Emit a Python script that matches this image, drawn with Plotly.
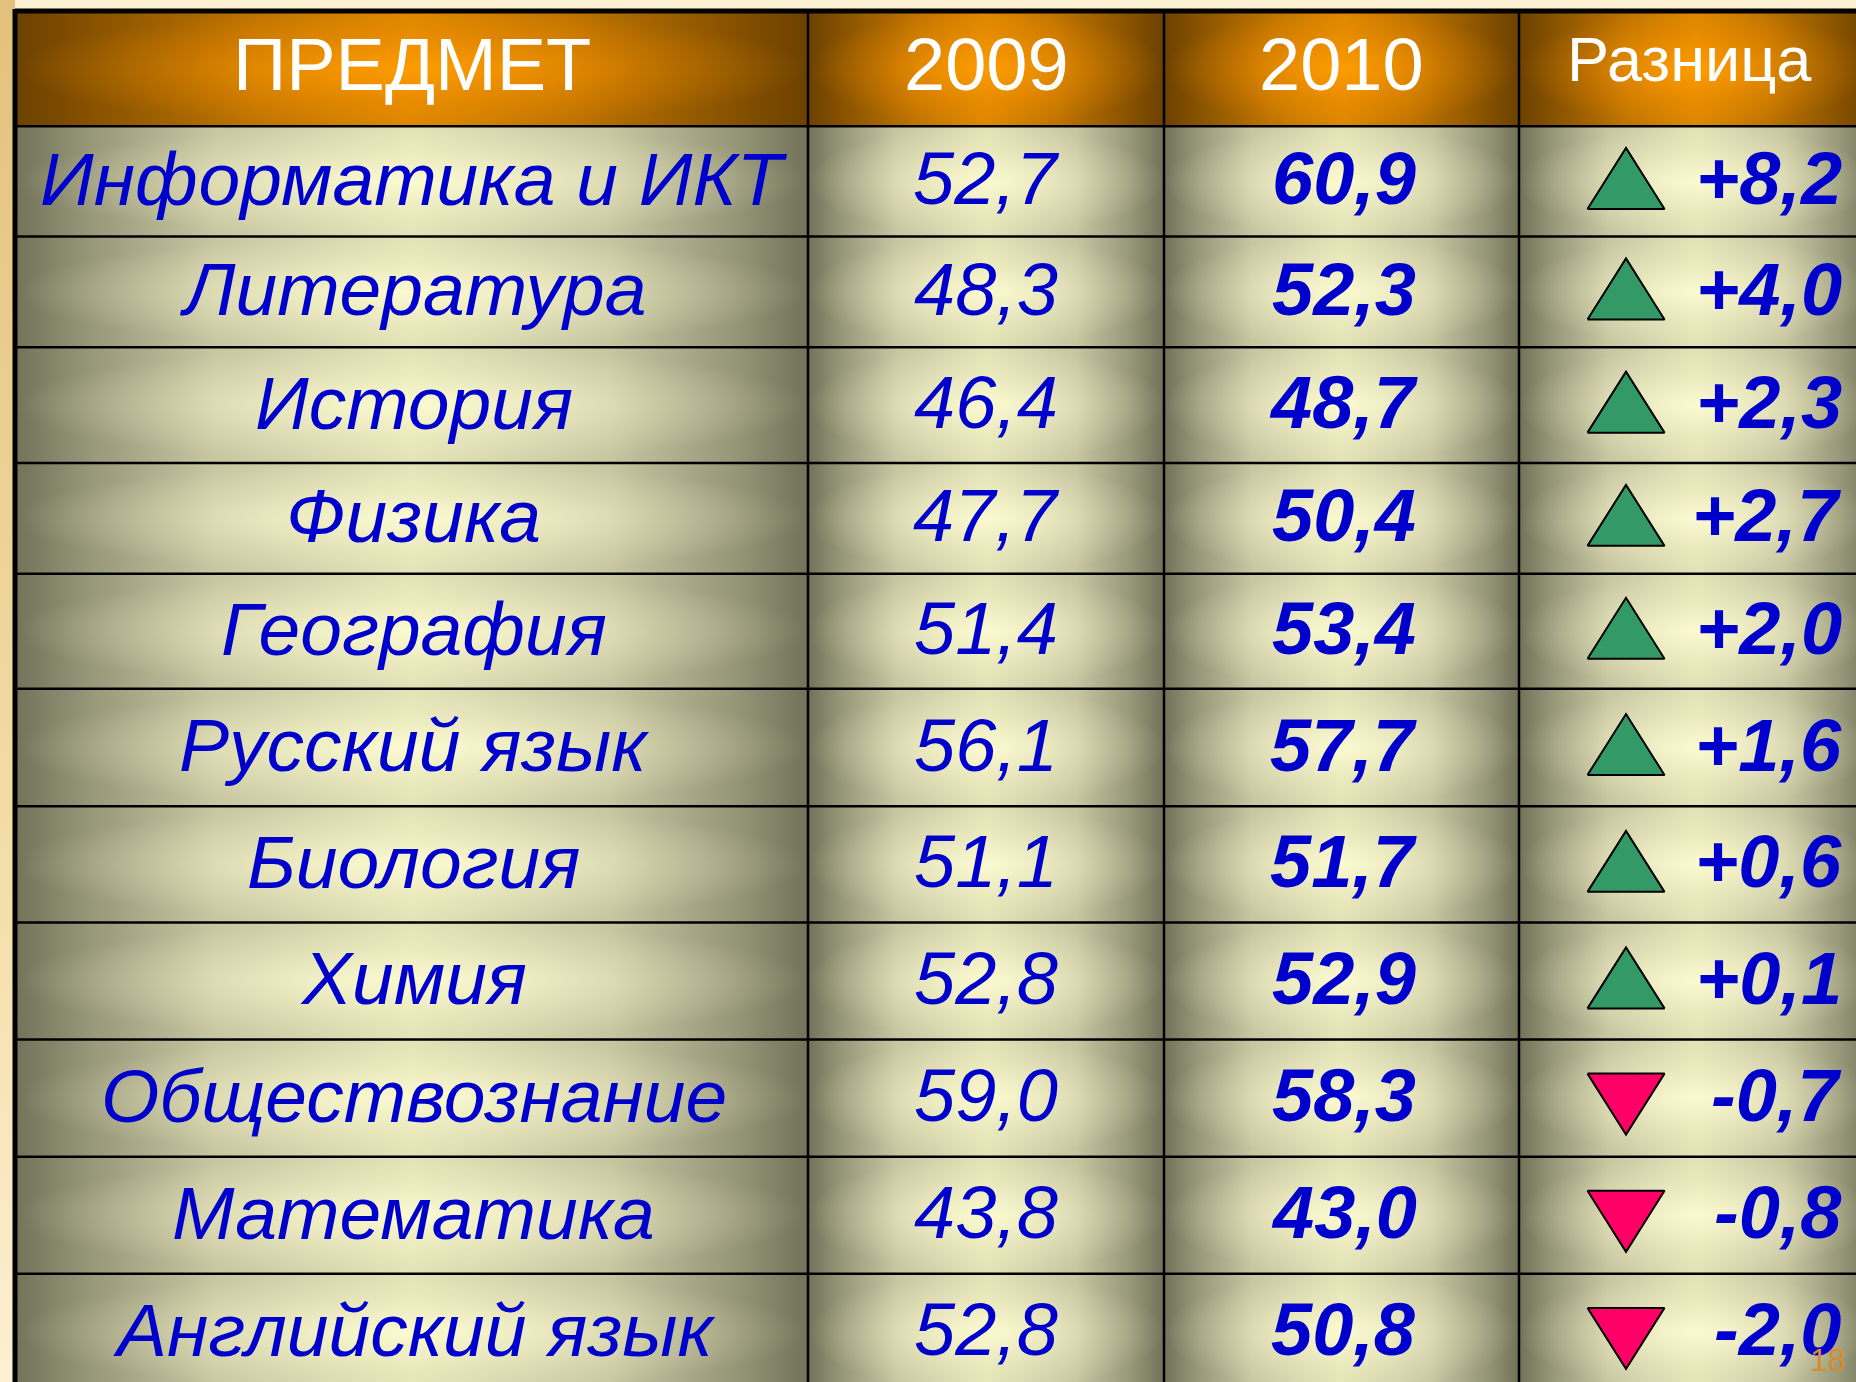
import plotly.graph_objects as go

# ---------------- data ----------------
header_labels = ["ПРЕДМЕТ", "2009", "2010", "Разница"]
subjects = [
    "Информатика и ИКТ", "Литература", "История", "Физика", "География",
    "Русский язык", "Биология", "Химия", "Обществознание", "Математика",
    "Английский язык",
]
score_2009 = [52.7, 48.3, 46.4, 47.7, 51.4, 56.1, 51.1, 52.8, 59.0, 43.8, 52.8]
score_2010 = [60.9, 52.3, 48.7, 50.4, 53.4, 57.7, 51.7, 52.9, 58.3, 43.0, 50.8]
difference = [8.2, 4.0, 2.3, 2.7, 2.0, 1.6, 0.6, 0.1, -0.7, -0.8, -2.0]
page_number = "18"

# ---------------- layout constants (slide pixel space) ----------------
W, H = 1856, 1382
COL_EDGES = [15, 808, 1164, 1519, 1874]
ROW_EDGES = [11, 126.3, 236.6, 347.3, 463, 573.7, 688.8, 806.3, 922.4,
             1039.4, 1156.8, 1273.75, 1391]
FONT = "Liberation Sans, Arial, sans-serif"
BLUE = "#0000CC"
TRI_X, TRI_HALF_W, TRI_H = 1626, 38.5, 61

CELL_BASE = [[0, "#72725A"], [0.1, "#99997B"], [0.25, "#C8C7A2"], [0.5, "#E4E2B7"],
             [0.75, "#C8C7A2"], [0.9, "#99997B"], [1, "#72725A"]]
CELL_GLOW = [[0, "rgba(253,252,212,0.9)"], [0.6, "rgba(250,249,205,0.3)"],
             [1, "rgba(250,249,205,0)"]]
HEAD_BASE = [[0, "#6C4100"], [0.12, "#8E5600"], [0.3, "#C07400"], [0.5, "#DE8800"],
             [0.7, "#C07400"], [0.88, "#8E5600"], [1, "#6C4100"]]
HEAD_GLOW = [[0, "rgba(255,158,0,0.9)"], [0.6, "rgba(255,150,0,0.3)"],
             [1, "rgba(255,150,0,0)"]]


def fmt(v, sign=False):
    s = f"{v:+.1f}" if sign else f"{v:.1f}"
    return s.replace(".", ",")


def rect_trace(x0, x1, y0, y1, gtype, cs):
    return go.Scatter(
        x=[x0, x1, x1, x0, x0], y=[y0, y0, y1, y1, y0],
        mode="lines", line=dict(width=0), fill="toself",
        fillgradient=dict(type=gtype, colorscale=cs),
        hoverinfo="skip", showlegend=False,
    )


fig = go.Figure()

# slide background strip on the left
fig.add_trace(rect_trace(0, 15, 0, H, "vertical",
                         [[0, "#FCF0D2"], [0.35, "#F4DEAA"], [1, "#E2C17C"]]))

# cells
n_rows = len(subjects) + 1
for r in range(n_rows):
    y0, y1 = ROW_EDGES[r], ROW_EDGES[r + 1]
    for c in range(len(header_labels)):
        x0, x1 = COL_EDGES[c], COL_EDGES[c + 1]
        base, glow = (HEAD_BASE, HEAD_GLOW) if r == 0 else (CELL_BASE, CELL_GLOW)
        fig.add_trace(rect_trace(x0, x1, y0, y1, "horizontal", base))
        fig.add_trace(rect_trace(x0, x1, y0, y1, "radial", glow))

# grid lines
shapes = []
for i, y in enumerate(ROW_EDGES[:-1]):
    shapes.append(dict(type="line", xref="x", yref="y", x0=COL_EDGES[0], x1=COL_EDGES[-1],
                       y0=y, y1=y, line=dict(color="black", width=5 if i == 0 else 2.5)))
for i, x in enumerate(COL_EDGES[:-1]):
    shapes.append(dict(type="line", xref="x", yref="y", x0=x, x1=x,
                       y0=ROW_EDGES[0] - 2, y1=ROW_EDGES[-1],
                       line=dict(color="black", width=5 if i == 0 else 2.5)))

row_centers = [(ROW_EDGES[i + 1] + ROW_EDGES[i + 2]) / 2 for i in range(len(subjects))]
col_centers = [(COL_EDGES[i] + COL_EDGES[i + 1]) / 2 for i in range(len(header_labels))]

annotations = []
# header
for c, lab in enumerate(header_labels):
    small = c == 3
    annotations.append(dict(
        x=1689 if small else col_centers[c], y=59 if small else 64,
        xref="x", yref="y", text=lab, showarrow=False,
        xanchor="center", yanchor="middle",
        font=dict(family=FONT, size=63 if small else 74, color="white"),
    ))

for i, subj in enumerate(subjects):
    yc = row_centers[i] - 2.5
    annotations.append(dict(x=col_centers[0] + 2, y=yc, xref="x", yref="y", text=subj,
                            showarrow=False, xanchor="center", yanchor="middle",
                            font=dict(family=FONT, size=75, color=BLUE, style="italic")))
    annotations.append(dict(x=col_centers[1], y=yc, xref="x", yref="y", text=fmt(score_2009[i]),
                            showarrow=False, xanchor="center", yanchor="middle",
                            font=dict(family=FONT, size=74, color=BLUE, style="italic")))
    annotations.append(dict(x=col_centers[2] + 2, y=yc, xref="x", yref="y",
                            text=fmt(score_2010[i]),
                            showarrow=False, xanchor="center", yanchor="middle",
                            font=dict(family=FONT, size=74, color=BLUE, style="italic",
                                      weight="bold")))
    annotations.append(dict(x=1844, y=yc, xref="x", yref="y", text=fmt(difference[i], True),
                            showarrow=False, xanchor="right", yanchor="middle",
                            font=dict(family=FONT, size=74, color=BLUE, style="italic",
                                      weight="bold")))

# page number
annotations.append(dict(x=1848, y=1360, xref="x", yref="y", text=page_number, showarrow=False,
                        xanchor="right", yanchor="middle",
                        font=dict(family=FONT, size=32, color="#D98B2B")))

# triangles showing direction of change (polygons built from row centres and sign)
for up in (True, False):
    xs, ys = [], []
    for rc, d in zip(row_centers, difference):
        if (d >= 0) != up:
            continue
        cy = rc - 3 if up else rc + 6
        tip, base = (cy - TRI_H / 2, cy + TRI_H / 2) if up else (cy + TRI_H / 2, cy - TRI_H / 2)
        xs += [TRI_X - TRI_HALF_W, TRI_X + TRI_HALF_W, TRI_X, TRI_X - TRI_HALF_W, None]
        ys += [base, base, tip, base, None]
    fig.add_trace(go.Scatter(
        x=xs, y=ys, mode="lines", fill="toself",
        fillcolor="#339966" if up else "#FF0066",
        line=dict(color="black", width=2), connectgaps=False,
        hoverinfo="skip", showlegend=False,
    ))

fig.update_layout(
    width=W, height=H,
    margin=dict(l=0, r=0, t=0, b=0),
    paper_bgcolor="#FCF0D2", plot_bgcolor="#FCF0D2",
    xaxis=dict(range=[0, W], visible=False, fixedrange=True),
    yaxis=dict(range=[H, 0], visible=False, fixedrange=True),
    shapes=shapes, annotations=annotations,
    showlegend=False, hovermode=False,
)

fig.write_html("out.html", config={"displayModeBar": False},
               post_script="document.body.style.margin='0';")
